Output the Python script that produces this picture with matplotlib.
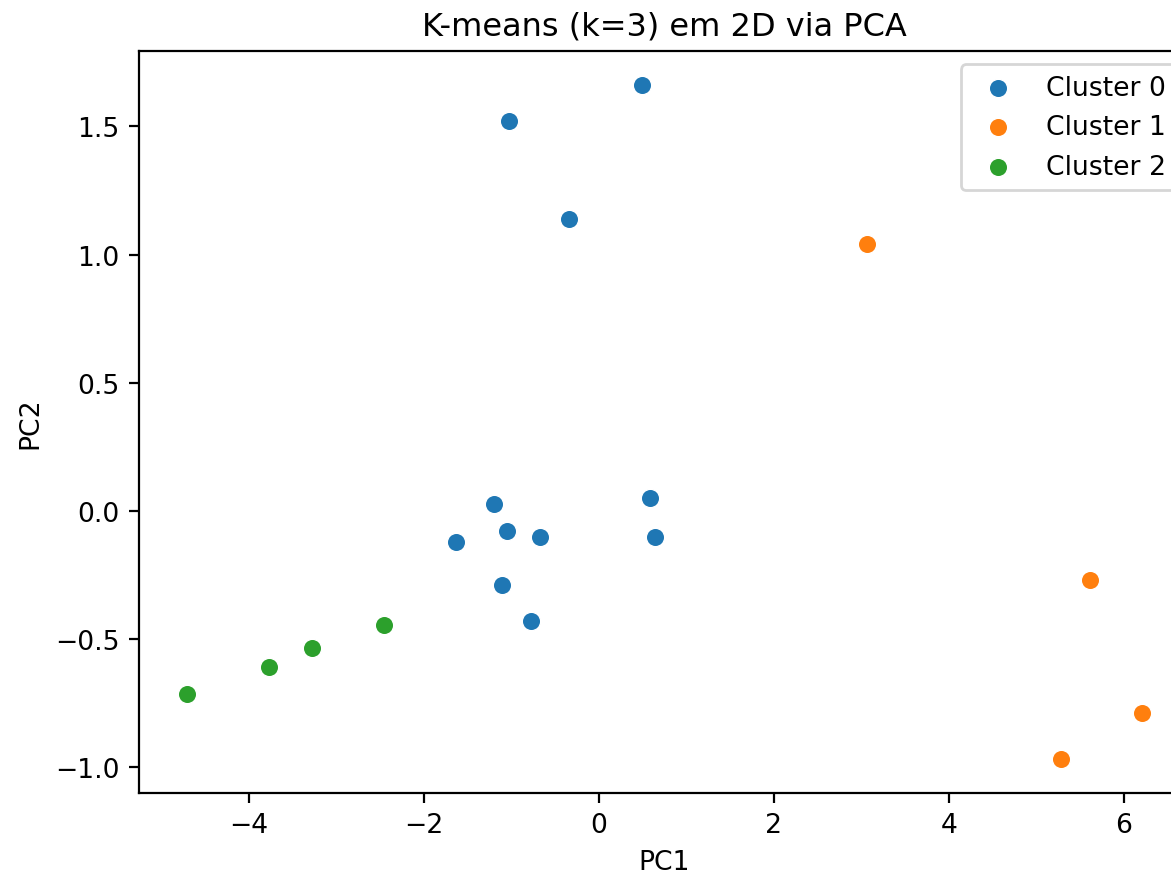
import matplotlib
matplotlib.use("Agg")
import matplotlib.pyplot as plt

# PCA coordinates, one list pair per cluster
c0_x = [0.49, -1.03, -0.34, -1.20, 0.59, -1.63, -1.05, -0.67, 0.64, -1.11, -0.77]
c0_y = [1.663, 1.522, 1.14, 0.027, 0.05, -0.12, -0.08, -0.10, -0.10, -0.29, -0.43]
c1_x = [3.06, 5.61, 6.21, 5.28]
c1_y = [1.042, -0.27, -0.79, -0.968]
c2_x = [-4.71, -3.77, -3.28, -2.46]
c2_y = [-0.714, -0.61, -0.535, -0.445]

labels = ["Cluster 0", "Cluster 1", "Cluster 2"]
colors = ["#1f77b4", "#ff7f0e", "#2ca02c"]

plt.rcParams["font.size"] = 9.6
fig = plt.figure(figsize=(1171 / 200, 878 / 200), dpi=200)
# the reference is cropped on the right, so the axes run past the figure edge
ax = fig.add_axes([0.1187, 0.096, 0.8975, 0.8448])
for xs, ys, lab, col in zip([c0_x, c1_x, c2_x], [c0_y, c1_y, c2_y], labels, colors):
    ax.scatter(xs, ys, s=44, color=col, edgecolors="white", linewidths=0.5, label=lab)

ax.set_title("K-means (k=3) em 2D via PCA")
ax.set_xlabel("PC1"); ax.set_ylabel("PC2")
ax.legend(loc="upper right")
fig.savefig("out.png", dpi=200)
